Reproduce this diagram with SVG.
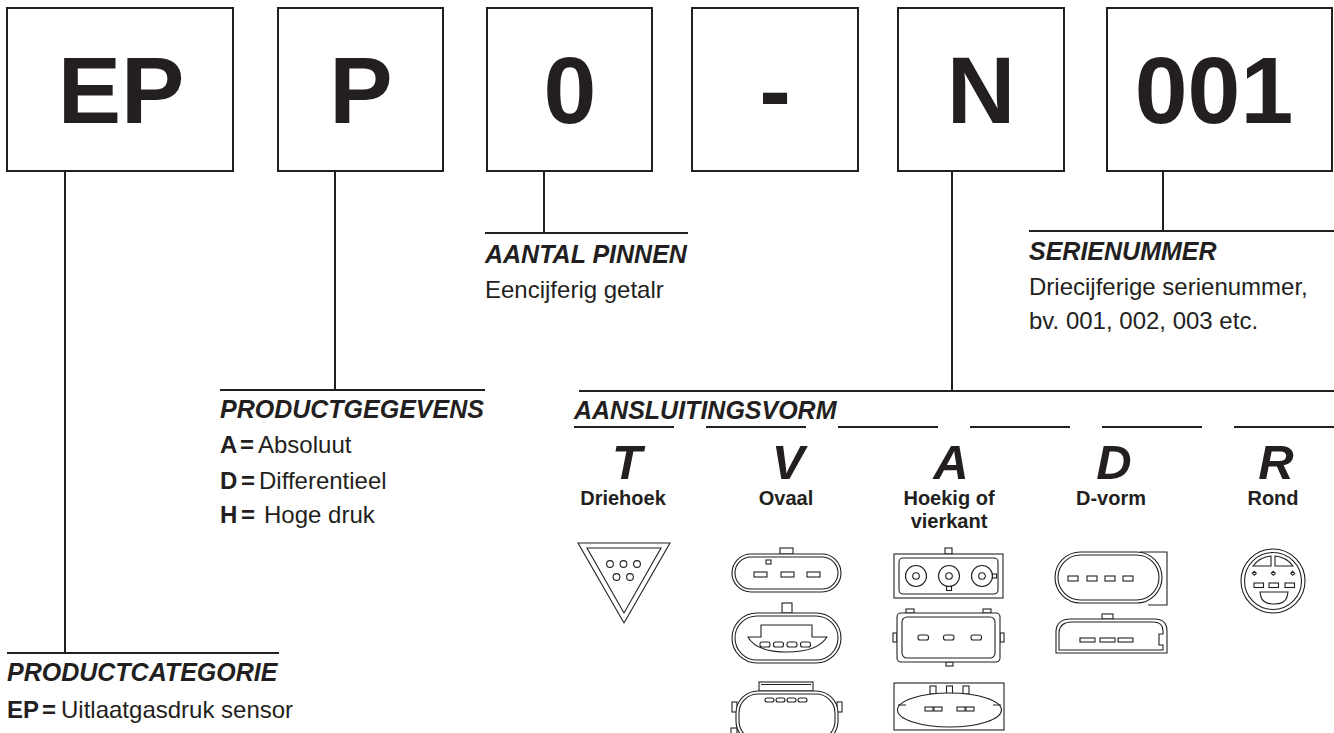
<svg xmlns="http://www.w3.org/2000/svg" width="1334" height="733" viewBox="0 0 1334 733">
<style>
text{font-family:"Liberation Sans",Arial,Helvetica,sans-serif;fill:#231f20}
.box{fill:#fff;stroke:#231f20;stroke-width:2}
.big{font-size:95px;font-weight:bold;text-anchor:middle}
.hd{font-size:25px;font-weight:bold;font-style:italic}
.bd{font-size:24px}
.b{font-weight:bold}
.ln{stroke:#231f20;stroke-width:2;fill:none}
.let{font-size:49px;font-weight:bold;font-style:italic;text-anchor:middle}
.lab{font-size:20px;font-weight:bold;text-anchor:middle}
.ic{fill:#fff;stroke:#231f20;stroke-width:1.1}
.icn{fill:none;stroke:#231f20;stroke-width:1.1}
</style>
<rect width="1334" height="733" fill="#fff"/>
<g id="connectors">
<line class="ln" x1="65" y1="171" x2="65" y2="653"/>
<line class="ln" x1="7" y1="653" x2="279" y2="653"/>
<line class="ln" x1="335" y1="171" x2="335" y2="390"/>
<line class="ln" x1="220" y1="390" x2="485" y2="390"/>
<line class="ln" x1="544" y1="171" x2="544" y2="233"/>
<line class="ln" x1="485" y1="233" x2="688" y2="233"/>
<line class="ln" x1="952" y1="171" x2="952" y2="391"/>
<line class="ln" x1="579" y1="391" x2="1334" y2="391"/>
<line class="ln" x1="1163" y1="171" x2="1163" y2="231"/>
<line class="ln" x1="1029" y1="231" x2="1334" y2="231"/>
<line class="ln" x1="574" y1="427" x2="674" y2="427"/>
<line class="ln" x1="706" y1="427" x2="806" y2="427"/>
<line class="ln" x1="838" y1="427" x2="938" y2="427"/>
<line class="ln" x1="970" y1="427" x2="1070" y2="427"/>
<line class="ln" x1="1102" y1="427" x2="1202" y2="427"/>
<line class="ln" x1="1234" y1="427" x2="1334" y2="427"/>
</g>
<g id="box-EP"><rect class="box" x="7" y="8" width="226" height="163"/><text class="big" x="121" y="123">EP</text></g>
<g id="box-P"><rect class="box" x="278" y="8" width="165" height="163"/><text class="big" x="361" y="123">P</text></g>
<g id="box-0"><rect class="box" x="487" y="8" width="165" height="163"/><text class="big" x="570" y="123">0</text></g>
<g id="box-dash"><rect class="box" x="692" y="8" width="166" height="163"/><text class="big" x="775" y="123">-</text></g>
<g id="box-N"><rect class="box" x="898" y="8" width="166" height="163"/><text class="big" x="981" y="123">N</text></g>
<g id="box-001"><rect class="box" x="1107" y="8" width="225" height="163"/><text class="big" x="1214" y="123">001</text></g>

<g id="cat-productcategorie">
<text class="hd" x="7" y="681">PRODUCTCATEGORIE</text>
<text class="bd" y="718"><tspan class="b" x="7">EP</tspan><tspan class="b" x="42">=</tspan><tspan x="61">Uitlaatgasdruk sensor</tspan></text>
</g>
<g id="cat-productgegevens">
<text class="hd" x="220" y="418">PRODUCTGEGEVENS</text>
<text class="bd" y="453"><tspan class="b" x="220">A</tspan><tspan class="b" x="240">=</tspan><tspan x="258">Absoluut</tspan></text>
<text class="bd" y="489"><tspan class="b" x="220">D</tspan><tspan class="b" x="241">=</tspan><tspan x="259">Differentieel</tspan></text>
<text class="bd" y="523"><tspan class="b" x="220">H</tspan><tspan class="b" x="241">=</tspan><tspan x="264">Hoge druk</tspan></text>
</g>
<g id="cat-aantalpinnen">
<text class="hd" x="485" y="263">AANTAL PINNEN</text>
<text class="bd" x="485" y="298">Eencijferig getalr</text>
</g>
<g id="cat-serienummer">
<text class="hd" x="1029" y="260">SERIENUMMER</text>
<text class="bd" x="1029" y="295">Driecijferige serienummer,</text>
<text class="bd" x="1029" y="329">bv. 001, 002, 003 etc.</text>
</g>
<g id="cat-aansluitingsvorm">
<text class="hd" x="574" y="419">AANSLUITINGSVORM</text>
</g>

<g id="opt-T">
<text class="let" x="627" y="479">T</text>
<text class="lab" x="623" y="505">Driehoek</text>
<polygon class="ic" points="578,543 670,543 624,623"/>
<polygon class="icn" points="587,548 661,548 624,613"/>
<g class="icn"><circle cx="610" cy="564" r="3.4"/><circle cx="623.5" cy="564" r="3.4"/><circle cx="637" cy="564" r="3.4"/><circle cx="616.5" cy="577" r="3.4"/><circle cx="630" cy="577" r="3.4"/></g>
</g>

<g id="opt-V">
<text class="let" x="788" y="479">V</text>
<text class="lab" x="786" y="505">Ovaal</text>
<rect class="ic" x="780" y="548" width="13" height="6"/>
<rect class="ic" x="732" y="554" width="109" height="38" rx="19"/>
<rect class="icn" x="735" y="557" width="103" height="32" rx="16"/>
<rect class="icn" x="766" y="560" width="5" height="4"/>
<g class="icn"><rect x="754" y="572" width="13" height="5"/><rect x="781" y="572" width="13" height="5"/><rect x="807" y="572" width="13" height="5"/></g>

<rect class="ic" x="782" y="603" width="10" height="10"/>
<rect class="ic" x="732" y="613" width="109" height="50" rx="25"/>
<rect class="icn" x="735" y="616" width="103" height="44" rx="22"/>
<path class="icn" d="M761,625 H812 V637 H827 C820,648 806,652 787,652 C768,652 754,648 748,637 H761 Z"/>
<g class="icn"><rect x="760" y="642" width="10" height="5" rx="2"/><rect x="773.5" y="642" width="10" height="5" rx="2"/><rect x="787" y="642" width="10" height="5" rx="2"/><rect x="800.5" y="642" width="10" height="5" rx="2"/></g>

<rect class="ic" x="759" y="682" width="54" height="9"/>
<line class="icn" x1="761" y1="684.5" x2="811" y2="684.5"/>
<rect class="ic" x="732" y="702" width="5" height="10"/>
<rect class="ic" x="837" y="702" width="5" height="10"/>
<rect class="ic" x="736" y="691" width="102" height="52" rx="22"/>
<rect class="icn" x="739" y="694" width="96" height="46" rx="19"/>
<rect class="ic" x="731" y="728" width="6" height="6"/>
<g class="icn"><rect x="765" y="698" width="9" height="4" rx="2"/><rect x="776" y="698" width="9" height="4" rx="2"/><rect x="787" y="698" width="9" height="4" rx="2"/><rect x="798" y="698" width="9" height="4" rx="2"/></g>
</g>

<g id="opt-A">
<text class="let" x="951" y="479">A</text>
<text class="lab" x="949" y="505">Hoekig of</text>
<text class="lab" x="949" y="528">vierkant</text>
<rect class="ic" x="945" y="548" width="7" height="6"/>
<rect class="ic" x="894" y="554" width="109" height="44"/>
<rect class="icn" x="899" y="558" width="99" height="36" rx="4"/>
<g class="icn"><circle cx="916" cy="576" r="10.5"/><circle cx="916" cy="576" r="3.3"/><circle cx="949" cy="576" r="10.5"/><circle cx="949" cy="576" r="3.3"/><circle cx="982" cy="576" r="10.5"/><circle cx="982" cy="576" r="3.3"/></g>
<rect class="icn" x="946.5" y="586.5" width="5" height="4"/>
<rect class="icn" x="992.5" y="574" width="4" height="4"/>

<rect class="ic" x="906" y="609" width="8" height="4"/>
<rect class="ic" x="983" y="609" width="8" height="4"/>
<rect class="ic" x="893" y="633" width="4" height="9"/>
<rect class="ic" x="1000" y="633" width="4" height="9"/>
<rect class="ic" x="946" y="662" width="7" height="4"/>
<rect class="ic" x="897" y="613" width="103" height="49" rx="4"/>
<rect class="icn" x="902" y="617" width="93" height="41" rx="5"/>
<g class="icn"><rect x="918" y="635" width="10.5" height="5" rx="2"/><rect x="943.5" y="635" width="10.5" height="5" rx="2"/><rect x="971" y="635" width="10.5" height="5" rx="2"/></g>

<rect class="ic" x="894" y="683" width="110" height="47"/>
<g class="icn"><rect x="930" y="686" width="6" height="8"/><rect x="946.5" y="686" width="6" height="8"/><rect x="963" y="686" width="6" height="8"/></g>
<ellipse class="ic" cx="949.5" cy="710" rx="52" ry="17"/>
<path class="icn" d="M898,705 H906 M993,705 H1001"/>
<g class="icn"><rect x="925" y="707" width="8" height="4"/><rect x="934" y="707" width="8" height="4"/><rect x="957" y="707" width="8" height="4"/><rect x="966" y="707" width="8" height="4"/></g>
</g>

<g id="opt-D">
<text class="let" x="1114" y="479">D</text>
<text class="lab" x="1111" y="505">D-vorm</text>
<path class="icn" d="M1140,552 H1167 V605 H1148"/>
<rect class="ic" x="1055" y="552" width="107" height="51" rx="25.5"/>
<rect class="icn" x="1058" y="555" width="101" height="45" rx="22.5"/>
<g class="icn"><rect x="1068" y="576" width="10" height="5"/><rect x="1087" y="576" width="10" height="5"/><rect x="1105" y="576" width="10" height="5"/><rect x="1123" y="576" width="10" height="5"/></g>

<rect class="ic" x="1102" y="614" width="11" height="5"/>
<path class="ic" d="M1056,653 V631 Q1057,619 1071,619 H1154 Q1167,619 1167,631 V653 Z"/>
<path class="icn" d="M1059,650 V632 Q1060,622 1072,622 H1153 Q1163,622 1163,631 V634 H1159 V645 H1163 V650 Z"/>
<g class="icn"><rect x="1080" y="638" width="15" height="4"/><rect x="1100" y="638" width="15" height="4"/><rect x="1118" y="638" width="15" height="4"/></g>
</g>

<g id="opt-R">
<text class="let" x="1276" y="479">R</text>
<text class="lab" x="1273" y="505">Rond</text>
<circle class="ic" cx="1273" cy="581" r="32"/>
<circle class="icn" cx="1273" cy="581" r="28.5"/>
<path class="icn" d="M1271,556 V566 H1253 A25,25 0 0 1 1271,556 Z"/>
<path class="icn" d="M1275,556 V566 H1293 A25,25 0 0 0 1275,556 Z"/>
<g class="icn"><path d="M1254.3,571.3 l2,2 l-2,2 l-2,-2 Z"/><path d="M1273.3,571.3 l2,2 l-2,2 l-2,-2 Z"/><path d="M1292.7,571.3 l2,2 l-2,2 l-2,-2 Z"/></g>
<g class="icn"><rect x="1254" y="583" width="9.5" height="4.5"/><rect x="1269" y="583" width="9.5" height="4.5"/><rect x="1285" y="583" width="9.5" height="4.5"/></g>
<path class="icn" d="M1260,592 H1288 L1287,597 Q1285,604 1274,604 Q1263,604 1261,597 Z"/>
</g>
</svg>
